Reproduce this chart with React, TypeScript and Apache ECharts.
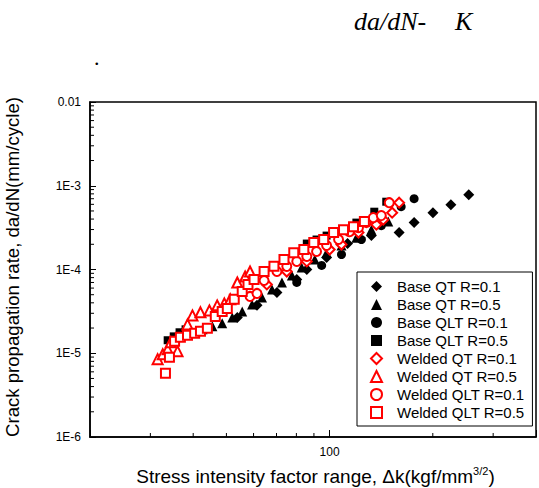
import React, { useEffect, useRef } from "react";
import * as echarts from "echarts";

const seriesNames = [
  "Base QT R=0.1",
  "Base QT R=0.5",
  "Base QLT R=0.1",
  "Base QLT R=0.5",
  "Welded QT R=0.1",
  "Welded QT R=0.5",
  "Welded QLT R=0.1",
  "Welded QLT R=0.5",
];

const baseQT01: [number, number][] = [
  [53.8, 2.68e-5], [61.4, 3.73e-5], [70.2, 5.32e-5], [80.2, 7.6e-5], [85.8, 1.0e-4],
  [98.0, 1.39e-4], [112.8, 2.04e-4], [132.4, 2.54e-4], [159.5, 2.76e-4], [176.4, 3.63e-4],
  [200.2, 4.77e-4], [225.8, 5.94e-4], [254.6, 7.81e-4],
];
const baseQT05: [number, number][] = [
  [36.0, 1.68e-5], [39.0, 1.88e-5], [42.6, 1.93e-5], [45.5, 2.1e-5], [48.6, 2.28e-5],
  [52.0, 2.68e-5], [55.6, 3.16e-5], [59.4, 3.83e-5], [63.5, 4.64e-5], [67.9, 5.78e-5],
  [72.6, 7.0e-5], [77.6, 8.49e-5], [82.9, 1.06e-4], [90.5, 1.32e-4], [98.0, 1.59e-4],
  [108.3, 1.93e-4], [119.7, 2.4e-4], [132.4, 2.99e-4], [148.3, 3.73e-4],
];
const baseQLT01: [number, number][] = [
  [80.2, 7.0e-5], [94.8, 1.12e-4], [108.3, 1.51e-4], [123.8, 2.28e-4], [141.5, 3.34e-4],
  [161.7, 5.62e-4], [176.4, 7.0e-4],
];
const baseQLT05: [number, number][] = [
  [33.7, 1.43e-5], [35.1, 1.59e-5], [36.5, 1.78e-5], [38.0, 1.93e-5], [85.8, 2.04e-4],
  [91.6, 2.28e-4], [98.0, 2.54e-4], [110.5, 2.91e-4], [119.7, 3.63e-4], [135.0, 4.9e-4],
  [146.3, 6.45e-4],
];
const weldedQT01: [number, number][] = [
  [65.6, 6.63e-5], [75.0, 9.47e-5], [85.8, 1.25e-4], [100, 1.73e-4], [108.3, 1.99e-4],
  [121.4, 2.76e-4], [136.9, 3.43e-4], [143.4, 3.94e-4], [152.2, 4.77e-4], [159.5, 6.28e-4],
];
const weldedQT05: [number, number][] = [
  [31.5, 8.5e-6], [32.6, 9.73e-6], [33.7, 1.12e-5], [34.4, 1.35e-5], [36.0, 1.06e-5],
  [38.5, 2.21e-5], [39.8, 2.83e-5], [42.0, 3.08e-5], [44.6, 3.25e-5], [47.0, 3.73e-5],
  [49.3, 3.94e-5], [51.3, 4.4e-5], [53.8, 7.0e-5], [56.7, 8.26e-5], [58.6, 9.47e-5],
];
const weldedQLT01: [number, number][] = [
  [58.6, 4.77e-5], [61.4, 5.18e-5], [64.4, 7.4e-5], [70.2, 9.47e-5], [75.0, 1.09e-4],
  [80.2, 1.25e-4], [85.8, 1.43e-4], [91.6, 1.64e-4], [98.0, 1.93e-4], [106.2, 2.28e-4],
  [114.3, 2.83e-4], [121.4, 3.16e-4], [128.0, 3.63e-4], [134.1, 4.16e-4], [141.5, 4.4e-4],
  [149.3, 6.28e-4],
];
const weldedQLT05: [number, number][] = [
  [33.2, 5.78e-6], [34.1, 8.96e-6], [35.3, 1.39e-5], [36.7, 1.55e-5], [38.5, 1.64e-5],
  [40.4, 1.73e-5], [42.0, 1.83e-5], [44.0, 1.99e-5], [46.4, 2.75e-5], [48.6, 3.16e-5],
  [50.3, 3.43e-5], [52.7, 4.4e-5], [55.6, 5.47e-5], [57.8, 6.63e-5], [60.2, 7.6e-5],
  [64.4, 9.47e-5], [68.8, 1.09e-4], [73.6, 1.32e-4], [78.6, 1.59e-4], [84.1, 1.73e-4],
  [89.9, 2.1e-4], [96.1, 2.28e-4], [102.7, 2.76e-4], [109.8, 2.99e-4], [117.4, 3.25e-4],
  [126.3, 3.73e-4],
];

const seriesData = [baseQT01, baseQT05, baseQLT01, baseQLT05, weldedQT01, weldedQT05, weldedQLT01, weldedQLT05];
const seriesSymbols = ["diamond", "triangle", "circle", "rect", "emptyDiamond", "emptyTriangle", "emptyCircle", "emptyRect"];
const seriesSizes = [11, 10, 9, 8, 10, 10, 9, 9];
const seriesColors = ["#000000", "#000000", "#000000", "#000000", "#ff0000", "#ff0000", "#ff0000", "#ff0000"];

const xMin = 20;
const xMax = 400;
const yMin = 1e-6;
const yMax = 0.01;
const xTickValues = [100];
const xTickLabels = ["100"];
const yTickExps = [-6, -5, -4, -3, -2];
const yTickLabels = ["1E-6", "1E-5", "1E-4", "1E-3", "0.01"];
const xMinorTicks = [30, 40, 50, 60, 70, 80, 90, 200, 300];
const yDecades = [1e-6, 1e-5, 1e-4, 1e-3];
const yMinorMultipliers = [2, 3, 4, 5, 6, 7, 8, 9];
const xTitle = "Stress intensity factor range, Δk(kgf/mm{sup|3/2})";
const yTitle = "Crack propagation rate, da/dN(mm/cycle)";

const SANS = "Liberation Sans, Arial, sans-serif";
const SERIF = "Liberation Serif, Times New Roman, serif";

export default function App() {
  const ref = useRef<HTMLDivElement>(null);
  useEffect(() => {
    const chart = echarts.init(ref.current!, null, { renderer: "svg" });
    chart.setOption({
      animation: false,
      backgroundColor: "#ffffff",
      grid: {
        left: 90,
        top: 102,
        width: 451,
        height: 335,
        show: true,
        borderColor: "#000",
        borderWidth: 1.5,
        backgroundColor: "transparent",
      },
      legend: {
        orient: "vertical",
        left: 357,
        top: 272,
        padding: [7, 8, 6, 13],
        itemWidth: 11,
        itemHeight: 11,
        itemGap: 3,
        symbolKeepAspect: true,
        borderColor: "#000",
        borderWidth: 1,
        backgroundColor: "#fff",
        selectedMode: false,
        textStyle: { fontFamily: SANS, fontSize: 15, color: "#000", lineHeight: 15, padding: [0, 0, 0, 10] },
        data: seriesNames,
      },
      xAxis: {
        type: "log",
        logBase: 10,
        min: xMin,
        max: xMax,
        axisLine: { lineStyle: { color: "#000", width: 1.5 } },
        axisTick: { inside: true, length: 7, lineStyle: { color: "#000", width: 1 } },
        axisLabel: {
          margin: 9,
          fontSize: 12,
          fontFamily: SANS,
          color: "#000",
          formatter: (v: number) => {
            const i = xTickValues.indexOf(Math.round(v));
            return i >= 0 ? xTickLabels[i] : "";
          },
        },
        splitLine: { show: false },
      },
      yAxis: {
        type: "log",
        logBase: 10,
        min: yMin,
        max: yMax,
        axisLine: { lineStyle: { color: "#000", width: 1.5 } },
        axisTick: { inside: true, length: 6, lineStyle: { color: "#000", width: 1 } },
        axisLabel: {
          margin: 9,
          fontSize: 12,
          fontFamily: SANS,
          color: "#000",
          formatter: (v: number) => {
            const i = yTickExps.indexOf(Math.round(Math.log10(v)));
            return i >= 0 ? yTickLabels[i] : "";
          },
        },
        splitLine: { show: false },
      },
      series: seriesNames.map((name, i) => ({
        name,
        type: "scatter",
        symbol: seriesSymbols[i],
        symbolSize: seriesSizes[i],
        data: seriesData[i],
        itemStyle: {
          color: seriesColors[i],
          borderColor: seriesColors[i],
          borderWidth: i >= 4 ? 1.2 : 0,
          opacity: 1,
        },
        emphasis: { disabled: true },
      })),
    });

    const yBottom = chart.convertToPixel({ yAxisIndex: 0 }, yMin) as number;
    const xLeft = chart.convertToPixel({ xAxisIndex: 0 }, xMin) as number;
    const elements: any[] = [];
    xMinorTicks.forEach((v) => {
      const px = chart.convertToPixel({ xAxisIndex: 0 }, v) as number;
      elements.push({
        type: "line",
        shape: { x1: px, y1: yBottom, x2: px, y2: yBottom - 4 },
        style: { stroke: "#000", lineWidth: 1 },
        silent: true,
      });
    });
    yDecades.forEach((d) => {
      yMinorMultipliers.forEach((m) => {
        const py = chart.convertToPixel({ yAxisIndex: 0 }, d * m) as number;
        elements.push({
          type: "line",
          shape: { x1: xLeft, y1: py, x2: xLeft + 4, y2: py },
          style: { stroke: "#000", lineWidth: 1 },
          silent: true,
        });
      });
    });
    elements.push({
      type: "text",
      x: 315.5,
      y: 476,
      silent: true,
      style: {
        text: xTitle,
        textAlign: "center",
        textVerticalAlign: "middle",
        fontFamily: SANS,
        fontSize: 19,
        fill: "#000",
        lineHeight: 22,
        rich: { sup: { fontFamily: SANS, fontSize: 11, fill: "#000", verticalAlign: "top", lineHeight: 11 } },
      },
    });
    elements.push({
      type: "text",
      x: 12.5,
      y: 267,
      rotation: Math.PI / 2,
      silent: true,
      style: {
        text: yTitle,
        textAlign: "center",
        textVerticalAlign: "middle",
        fontFamily: SANS,
        fontSize: 18.6,
        fill: "#000",
      },
    });
    elements.push({
      type: "text",
      left: 354,
      top: 8,
      style: { text: "da/dN-", fontFamily: SERIF, fontStyle: "italic", fontSize: 26, fill: "#000" },
      silent: true,
    });
    elements.push({
      type: "text",
      left: 455,
      top: 8,
      style: { text: "K", fontFamily: SERIF, fontStyle: "italic", fontSize: 26, fill: "#000" },
      silent: true,
    });
    elements.push({
      type: "text",
      left: 94,
      top: 46,
      style: { text: ".", fontFamily: SERIF, fontSize: 22, fill: "#000" },
      silent: true,
    });
    chart.setOption({ graphic: { elements } });
    return () => chart.dispose();
  }, []);
  return (
    <div
      ref={ref}
      style={{ position: "fixed", left: 0, top: 0, width: 539, height: 488 }}
    />
  );
}
